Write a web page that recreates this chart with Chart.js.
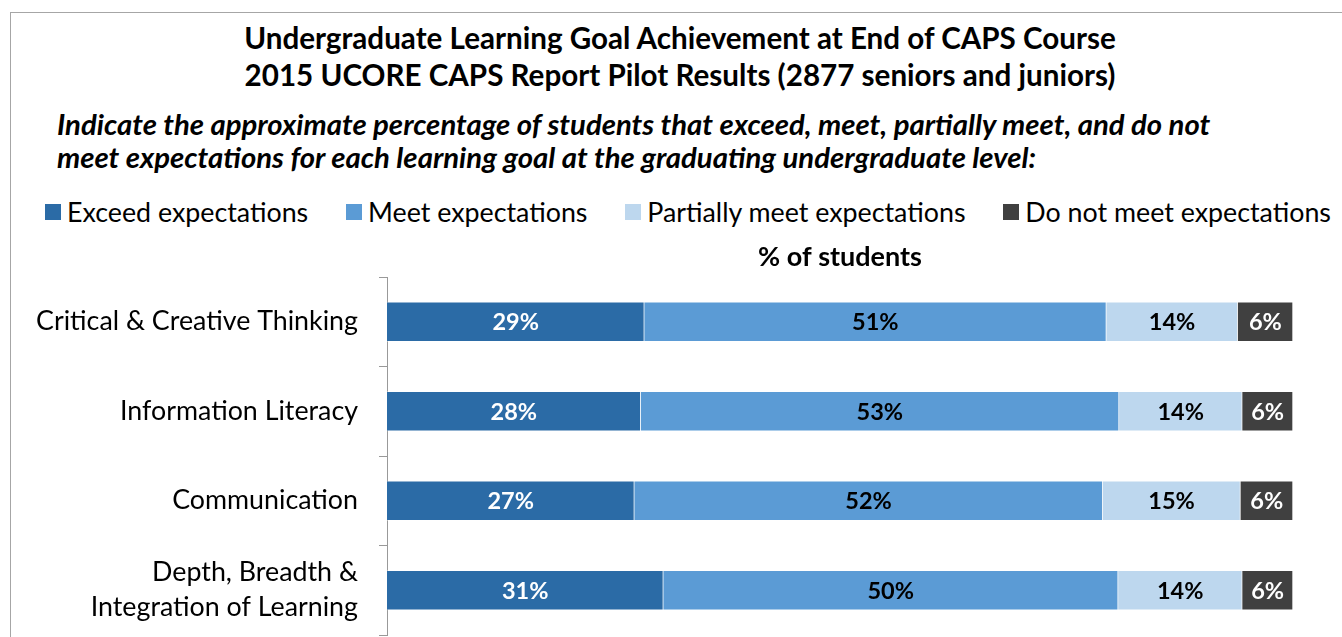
<!DOCTYPE html>
<html>
<head>
<meta charset="utf-8">
<script src="https://cdn.jsdelivr.net/npm/chart.js@4.4.1/dist/chart.umd.min.js"></script>
<style>
  body { margin: 0; background: #fff; font-family: Lato, "Open Sans", sans-serif; color: #000; }
  #page { position: relative; width: 1342px; height: 637px; overflow: hidden; }
  #frame { position: absolute; left: 10px; top: 12px; width: 1400px; height: 700px; border: 1.5px solid #a6a6a6; }
  #title { position: absolute; left: 0; top: 19px; width: 1360px; text-align: center; font-weight: bold; font-size: 29.6px; line-height: 37px; }
  #question { position: absolute; left: 57px; top: 107px; font-weight: bold; font-style: italic; font-size: 29.3px; line-height: 33px; white-space: nowrap; }
  #legend { position: absolute; left: 45px; top: 196px; width: 1286px; display: flex; justify-content: space-between; font-size: 26.8px; line-height: 32px; white-space: nowrap; }
  #legend .item { display: flex; align-items: center; }
  #legend .box { width: 16px; height: 16px; margin-right: 6px; }
  #chartWrap { position: absolute; left: 0; top: 235px; width: 1342px; height: 402px; }
</style>
</head>
<body>
<div id="page">
  <div id="frame"></div>
  <div id="title">Undergraduate Learning Goal Achievement at End of CAPS Course<br>2015 UCORE CAPS Report Pilot Results (2877 seniors and juniors)</div>
  <div id="question">Indicate the approximate percentage of students that exceed, meet, partially meet, and do not<br>meet expectations for each learning goal at the graduating undergraduate level:</div>
  <div id="legend"></div>
  <div id="chartWrap"><canvas id="chart" width="1342" height="402"></canvas></div>
</div>
<script>
// categories (top to bottom)
const goals = [
  'Critical & Creative Thinking',
  'Information Literacy',
  'Communication',
  ['Depth, Breadth &', 'Integration of Learning']
];

const seriesNames = ['Exceed expectations', 'Meet expectations', 'Partially meet expectations', 'Do not meet expectations'];
const seriesColors = ['#2b6ba6', '#5b9bd5', '#bdd7ee', '#404040'];
const labelColors = ['#ffffff', '#000000', '#000000', '#ffffff'];

// bar lengths (% of students)
const exceedValues = [28.4, 28.0, 27.3, 30.5];
const meetValues = [51.0, 52.8, 51.7, 50.2];
const partialValues = [14.5, 13.6, 15.2, 13.7];
const notMeetValues = [6.1, 5.6, 5.8, 5.6];

// percentages printed on the bars
const exceedLabels = [29, 28, 27, 31];
const meetLabels = [51, 53, 52, 50];
const partialLabels = [14, 14, 15, 14];
const notMeetLabels = [6, 6, 6, 6];

const allValues = [exceedValues, meetValues, partialValues, notMeetValues];
const allLabels = [exceedLabels, meetLabels, partialLabels, notMeetLabels];

// html legend
const legendEl = document.getElementById('legend');
seriesNames.forEach(function (name, i) {
  const item = document.createElement('div');
  item.className = 'item';
  item.innerHTML = '<span class="box" style="background:' + seriesColors[i] + '"></span><span>' + name + '</span>';
  legendEl.appendChild(item);
});

// prints the percentage in the middle of each segment
const barLabels = {
  id: 'barLabels',
  afterDatasetsDraw(chart) {
    const ctx = chart.ctx;
    ctx.save();
    ctx.font = 'bold 23.5px Lato, "Open Sans", sans-serif';
    ctx.textAlign = 'center';
    ctx.textBaseline = 'middle';
    chart.data.datasets.forEach(function (ds, i) {
      const meta = chart.getDatasetMeta(i);
      ctx.fillStyle = labelColors[i];
      meta.data.forEach(function (bar, j) {
        const x = (bar.x + bar.base) / 2;
        ctx.fillText(allLabels[i][j] + '%', x, bar.y + 1);
      });
    });
    ctx.restore();
  }
};

const ctx = document.getElementById('chart').getContext('2d');
const chart = new Chart(ctx, {
  type: 'bar',
  data: {
    labels: goals,
    datasets: seriesNames.map(function (name, i) {
      return {
        label: name,
        data: allValues[i],
        backgroundColor: seriesColors[i],
        borderColor: 'rgba(255,255,255,0.35)',
        borderWidth: 1,
        barThickness: 40
      };
    })
  },
  options: {
    indexAxis: 'y',
    responsive: false,
    animation: false,
    devicePixelRatio: 1,
    layout: { padding: { left: 0, right: 49, top: 0, bottom: 2 } },
    plugins: {
      legend: { display: false },
      tooltip: { enabled: false }
    },
    scales: {
      x: {
        position: 'top',
        stacked: true,
        min: 0,
        max: 100,
        ticks: { display: false },
        grid: { display: false },
        border: { display: false },
        title: {
          display: true,
          text: '% of students',
          color: '#000',
          font: { family: 'Lato', size: 27, weight: 'bold' },
          padding: { top: 6, bottom: 4 }
        },
        afterFit: function (scale) { scale.height = 42; }
      },
      y: {
        stacked: true,
        ticks: {
          color: '#000',
          padding: 21,
          font: { family: 'Lato', size: 26.8, lineHeight: 1.3 }
        },
        grid: { drawOnChartArea: false, tickLength: 8, color: '#999999' },
        border: { color: '#999999', width: 1 },
        afterFit: function (scale) {
          scale.width = 387;
          // keep the label half-heights from pushing the plot area in
          scale.paddingTop = 0;
          scale.paddingBottom = 0;
        }
      }
    }
  },
  plugins: [barLabels]
});
</script>
</body>
</html>
